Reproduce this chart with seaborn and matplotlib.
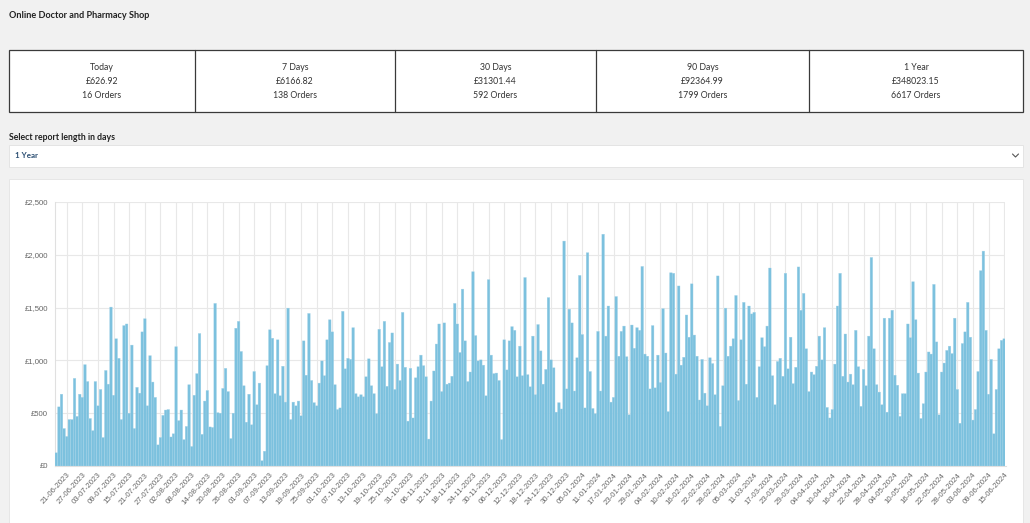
import matplotlib
matplotlib.use("Agg")
import matplotlib.pyplot as plt
import seaborn as sns
import numpy as np
import pandas as pd
from matplotlib.patches import Rectangle

# Dashboard texts
page_title = "Online Doctor and Pharmacy Shop"
period_names = ["Today", "7 Days", "30 Days", "90 Days", "1 Year"]
period_totals = ["£626.92", "£6166.82", "£31301.44", "£92364.99", "£348023.15"]
period_orders = ["16 Orders", "138 Orders", "592 Orders", "1799 Orders", "6617 Orders"]
select_label = "Select report length in days"
select_value = "1 Year"

# Daily sales (£), 17-06-2023 .. 15-06-2024
start_date = "2023-06-17"
daily_sales = [
    125, 560, 680, 355, 280, 440, 440, 830, 470, 680,
    650, 960, 800, 450, 335, 800, 570, 725, 270, 905,
    775, 1505, 670, 1205, 1020, 440, 1330, 1345, 500, 1145,
    355, 745, 690, 1270, 1395, 570, 1045, 795, 650, 200,
    270, 480, 530, 535, 275, 305, 1130, 430, 530, 250,
    375, 770, 185, 670, 875, 1255, 300, 615, 715, 370,
    365, 1540, 505, 500, 735, 925, 705, 260, 500, 1305,
    1370, 1085, 760, 415, 680, 390, 895, 580, 785, 50,
    140, 950, 1290, 1210, 685, 1195, 665, 945, 605, 1495,
    440, 605, 570, 615, 475, 1185, 860, 1445, 810, 600,
    570, 785, 995, 855, 1195, 1385, 1270, 770, 535, 550,
    1465, 920, 1020, 1010, 1310, 685, 655, 675, 655, 845,
    1015, 760, 685, 495, 1295, 940, 1370, 755, 1170, 1260,
    725, 965, 810, 1455, 935, 425, 925, 455, 835, 940,
    1050, 950, 845, 255, 615, 900,
    1155, 1345, 705, 1355, 775, 785, 850, 1540, 1345, 1075,
    1675, 1185, 800, 890, 1840, 1235, 995, 1005, 955, 665,
    1765, 1050, 875, 880, 810, 250, 1195, 910, 1185, 1320,
    1285, 845, 1135, 855, 1785, 865, 750, 1230, 675, 1340,
    1090, 775, 915, 1595, 1005, 930, 510, 600, 540, 2130,
    730, 1485, 1355, 710, 1025, 1805, 1245,
    550, 2020, 895, 545, 495, 1275, 710, 2195, 1230, 1515,
    605, 650, 1605, 1040, 1275, 1325, 1035, 485, 1335, 1115,
    1310, 1285, 1890, 1060, 1040, 730, 1330, 740, 1050, 790,
    1490, 1070, 515, 1830, 1825, 870, 1705, 955, 1030, 1430,
    1220, 1725, 1240, 1040, 625, 1010, 690, 570, 1025, 970,
    675, 1800, 375, 760, 1495, 1040,
    1135, 1205, 1615, 620, 1195, 1550, 775, 1515, 1440, 1455,
    650, 940, 1215, 1130, 1325, 1875, 855, 580, 990, 1020,
    850, 1825, 920, 1220, 780, 935, 1885, 1475, 1635, 1110,
    705, 890, 865, 945, 1230, 1005, 1310, 555, 455, 535,
    965, 1515, 1825, 850, 1250, 795, 870, 770, 1285, 940,
    565, 915, 760, 1230, 1975, 1110, 770, 700, 580, 1400,
    510, 1400, 1475, 860, 765, 470, 685, 685, 1345, 1215,
    1745, 1385, 880, 450, 590, 890, 1080, 1060, 1720, 1175,
    485, 890, 975, 1095, 1135, 1065, 1400, 725, 405, 1160,
    1270, 1550, 1220, 435, 535, 895, 1850, 2035, 1285, 680,
    1010, 305, 725, 1110, 1190, 1205,
]
y_ticks = [0, 500, 1000, 1500, 2000, 2500]

dates = pd.date_range(start_date, periods=len(daily_sales), freq="D").strftime("%d-%m-%Y")
df = pd.DataFrame({"date": dates, "sales": daily_sales})

W, H = 1030, 523
ui_font = ["Lato", "DejaVu Sans"]
chart_font = ["Liberation Sans", "DejaVu Sans"]

sns.set_style("white")
plt.rcParams["font.family"] = ui_font

fig = plt.figure(figsize=(W / 100, H / 100), dpi=100)
fig.patch.set_facecolor("#f1f1f1")

# background layer in pixel coordinates
bg = fig.add_axes([0, 0, 1, 1])
bg.set_xlim(0, W)
bg.set_ylim(H, 0)
bg.axis("off")
bg.set_facecolor("none")

bg.text(9, 15, page_title, fontsize=6.6, fontweight="bold", color="#222222", va="center", ha="left")

# stats row
edges = [9, 195, 395, 596, 809, 1023]
bg.add_patch(Rectangle((9, 50), 1014, 62, facecolor="white", edgecolor="#3a3a3a", lw=0.9))
for x in edges[1:-1]:
    bg.plot([x, x], [50, 112], color="#3a3a3a", lw=0.9)
for i in range(5):
    cx = (edges[i] + edges[i + 1]) / 2
    bg.text(cx, 68, period_names[i], fontsize=6.3, color="#333333", ha="center", va="center")
    bg.text(cx, 81, period_totals[i], fontsize=6.3, color="#333333", ha="center", va="center")
    bg.text(cx, 95, period_orders[i], fontsize=6.3, color="#333333", ha="center", va="center")

# select
bg.text(9, 137, select_label, fontsize=6.3, fontweight="bold", color="#222222", va="center", ha="left")
bg.add_patch(Rectangle((9, 144.5), 1014, 22, facecolor="white", edgecolor="#e4e4e4", lw=0.7))
bg.text(15, 155.5, select_value, fontsize=5.8, fontweight="bold", color="#2c4f73", va="center", ha="left")
bg.plot([1012.5, 1015.5, 1018.5], [154, 157, 154], color="#555555", lw=0.8)

# chart card
bg.add_patch(Rectangle((9, 179), 1014, 350, facecolor="white", edgecolor="#e6e6e6", lw=0.7))

# chart
L, R, T, B = 55, 1005.5, 202, 466
ax = fig.add_axes([L / W, 1 - B / H, (R - L) / W, (B - T) / H])
ax.set_facecolor("none")

sns.barplot(data=df, x="date", y="sales", color="#7cc1de", saturation=1, width=1.0,
            edgecolor="#a6d4e9", linewidth=0.25, ax=ax, zorder=3)
for p in ax.patches:
    p.set_snap(False)

tick_pos = list(range(4, len(daily_sales), 6))
ax.set_xticks(tick_pos)
ax.set_xticklabels([dates[i] for i in tick_pos], rotation=48, ha="right", rotation_mode="anchor",
                   fontsize=5.6, color="#666666", family=chart_font)
ax.set_xlim(-0.5, len(daily_sales) - 0.5)

ax.set_ylim(0, 2500)
ax.set_yticks(y_ticks)
ax.set_yticklabels([f"£{v:,}" for v in y_ticks], fontsize=5.6, color="#666666", family=chart_font)

ax.grid(True, color="#e8e8e8", lw=0.8, zorder=0)
ax.set_axisbelow(True)
ax.tick_params(axis="x", length=3, width=0.8, color="#e0e0e0", pad=1)
ax.tick_params(axis="y", length=0, pad=5)
for s in ["top", "right"]:
    ax.spines[s].set_visible(False)
for s in ["left", "bottom"]:
    ax.spines[s].set_color("#e0e0e0")
    ax.spines[s].set_linewidth(0.8)
ax.set_xlabel("")
ax.set_ylabel("")

fig.savefig("out.png", dpi=100, facecolor=fig.get_facecolor())
